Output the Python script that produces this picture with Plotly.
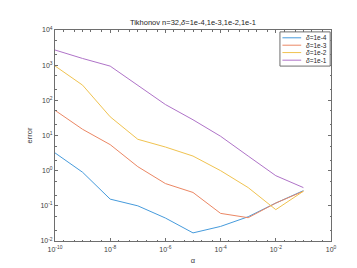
import plotly.graph_objects as go

alpha = [1e-10, 1e-9, 1e-8, 1e-7, 1e-6, 1e-5, 1e-4, 1e-3, 1e-2, 1e-1]
err_d4 = [3.2, 0.9, 0.155, 0.10, 0.045, 0.017, 0.026, 0.049, 0.12, 0.27]
err_d3 = [52, 15, 5.5, 1.3, 0.43, 0.24, 0.061, 0.046, 0.12, 0.26]
err_d2 = [950, 270, 34, 7.8, 4.7, 2.6, 1.0, 0.33, 0.078, 0.26]
err_d1 = [2700, 1550, 940, 270, 76, 28, 9.5, 2.6, 0.72, 0.33]
names = ["<i>δ</i>=1e-4", "<i>δ</i>=1e-3", "<i>δ</i>=1e-2", "<i>δ</i>=1e-1"]
colors = ["rgb(70,155,220)", "rgb(235,135,100)", "rgb(240,195,80)", "rgb(175,115,200)"]

xtickvals = [1e-10, 1e-8, 1e-6, 1e-4, 1e-2, 1]
xticktext = ["10<sup>-10</sup>", "10<sup>-8</sup>", "10<sup>-6</sup>", "10<sup>-4</sup>", "10<sup>-2</sup>", "10<sup>0</sup>"]
ytickvals = [1e-2, 1e-1, 1, 1e1, 1e2, 1e3, 1e4]
yticktext = ["10<sup>-2</sup>", "10<sup>-1</sup>", "10<sup>0</sup>", "10<sup>1</sup>", "10<sup>2</sup>", "10<sup>3</sup>", "10<sup>4</sup>"]

fig = go.Figure()
for ys, nm, c in zip([err_d4, err_d3, err_d2, err_d1], names, colors):
    fig.add_trace(go.Scatter(x=alpha, y=ys, mode="lines", name=nm, showlegend=False,
                             line=dict(color=c, width=1)))

axcol = "rgb(110,110,110)"
common = dict(type="log", showgrid=False, zeroline=False, showline=True, linecolor=axcol,
              linewidth=1, mirror="ticks", ticks="inside", ticklen=3, tickcolor=axcol,
              tickfont=dict(size=7, color="rgb(60,60,60)", family="Liberation Sans, Arial"),
              minor=dict(ticks="inside", ticklen=1.5, tickcolor=axcol, showgrid=False))

fig.update_xaxes(range=[-10, 0], tickmode="array", tickvals=xtickvals, ticktext=xticktext,
                 ticklabelstandoff=2,
                 title=dict(text="α", font=dict(size=7.5, color="rgb(60,60,60)"), standoff=5),
                 **common)
fig.update_yaxes(range=[-2, 4], tickmode="array", tickvals=ytickvals, ticktext=yticktext,
                 title=dict(text="error", font=dict(size=7.5, color="rgb(60,60,60)"), standoff=6),
                 **common)

# compact legend box (MATLAB style)
shapes = [dict(type="rect", xref="paper", yref="paper", x0=0.815, x1=0.997, y0=0.829, y1=0.991,
               line=dict(color=axcol, width=1), fillcolor="white", layer="above")]
annotations = []
row_y = [0.963, 0.928, 0.893, 0.857]
for nm, c, yy in zip(names, colors, row_y):
    shapes.append(dict(type="line", xref="paper", yref="paper", x0=0.824, x1=0.892, y0=yy, y1=yy,
                       line=dict(color=c, width=1), layer="above"))
    annotations.append(dict(text=nm, xref="paper", yref="paper", x=0.902, y=yy, xanchor="left",
                            yanchor="middle", showarrow=False,
                            font=dict(size=6.5, color="rgb(40,40,40)")))

fig.update_layout(
    width=357, height=268,
    margin=dict(l=47, r=34, t=22, b=30),
    paper_bgcolor="white", plot_bgcolor="white",
    font=dict(family="Liberation Sans, Arial", size=7, color="rgb(40,40,40)"),
    title=dict(text="Tikhonov n=32,<i>δ</i>=1e-4,1e-3,1e-2,1e-1", x=0.518, xanchor="center",
               y=0.945, yanchor="middle", font=dict(size=7.5, color="rgb(30,30,30)")),
    shapes=shapes, annotations=annotations,
    showlegend=False,
)

fig.write_html("out.html")
